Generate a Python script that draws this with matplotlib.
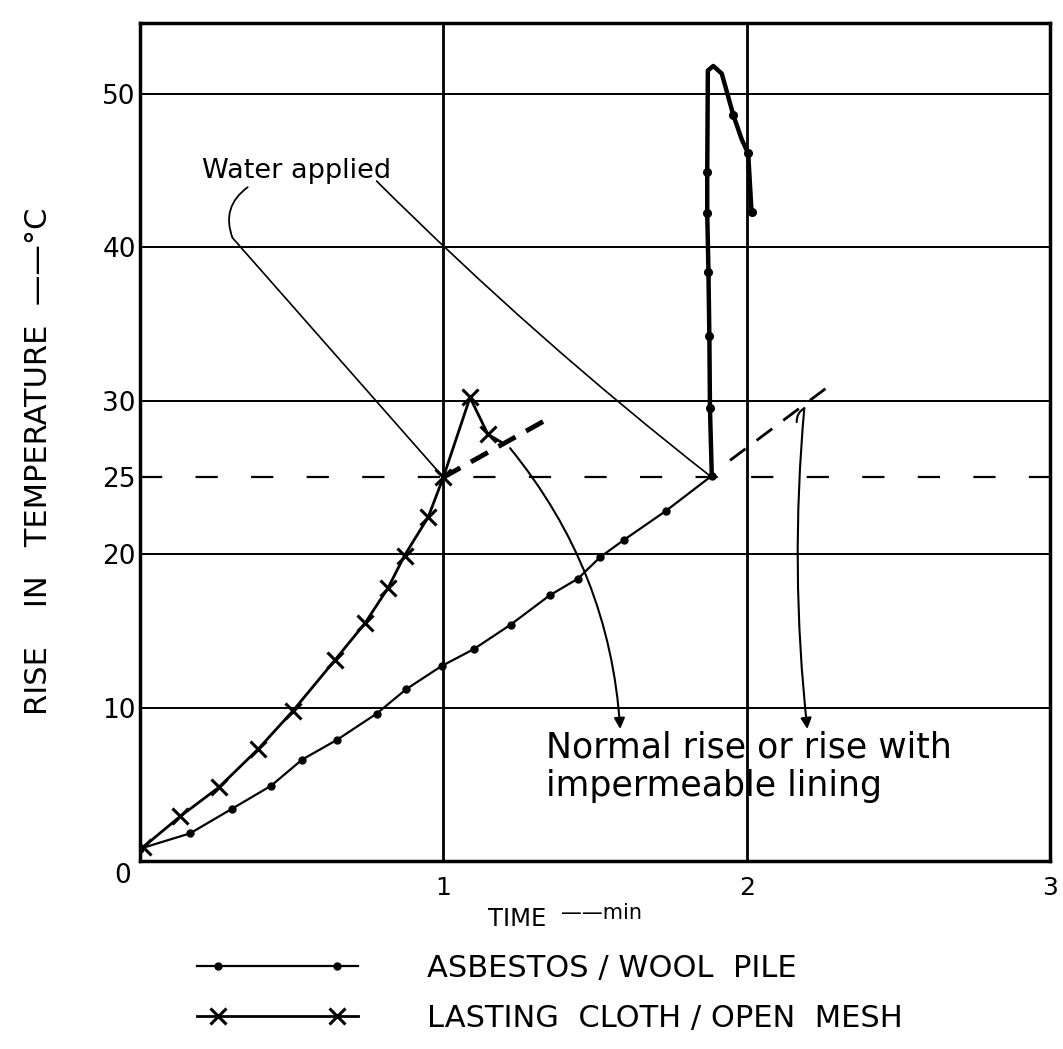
import numpy as np
import matplotlib
matplotlib.use("Agg")
import matplotlib.pyplot as plt
from matplotlib.legend_handler import HandlerLine2D

# ---------------- data ----------------
asb_time = [0.0, 0.165, 0.303, 0.432, 0.534, 0.65, 0.78, 0.878, 0.994, 1.10,
            1.222, 1.35, 1.444, 1.517, 1.594, 1.733, 1.885]
asb_temp = [0.8, 1.8, 3.4, 4.9, 6.6, 7.9, 9.6, 11.2, 12.7, 13.8,
            15.4, 17.3, 18.4, 19.8, 20.9, 22.8, 25.1]
asb_wet_time = [1.885, 1.879, 1.877, 1.874, 1.870, 1.870, 1.872, 1.890, 1.918,
                1.956, 1.984, 2.005, 2.016]
asb_wet_temp = [25.1, 29.5, 34.2, 38.4, 42.2, 44.9, 51.5, 51.8, 51.3,
                48.6, 47.0, 46.1, 42.3]
cloth_time = [0.01, 0.132, 0.26, 0.39, 0.505, 0.643, 0.742, 0.818, 0.872, 0.95, 1.0]
cloth_temp = [0.9, 2.9, 4.8, 7.3, 9.8, 13.1, 15.5, 17.8, 19.9, 22.4, 25.0]
cloth_wet_time = [1.0, 1.088, 1.147, 1.19]
cloth_wet_temp = [25.0, 30.2, 27.8, 27.3]
cloth_normal_time = [1.0, 1.335]
cloth_normal_temp = [25.0, 28.7]
asb_normal_time = [1.945, 2.275]
asb_normal_temp = [26.1, 31.0]
water_level = 25

y_ticks = [10, 20, 25, 30, 40, 50]
y_grid = [10, 20, 30, 40, 50]
x_ticks = [1, 2, 3]
x_grid = [1, 2]
series_labels = ["ASBESTOS / WOOL  PILE", "LASTING  CLOTH / OPEN  MESH"]

# ---------------- figure ----------------
plt.rcParams['font.family'] = ['DejaVu Sans']
W, H = 1063, 1049
fig = plt.figure(figsize=(W / 100, H / 100), dpi=100)
ax = fig.add_axes([140 / W, 1 - 861 / H, 910 / W, 838 / H])
ax.set_xlim(0, 3)
ax.set_ylim(0, 54.6)

for s in ax.spines.values():
    s.set_linewidth(2.5)
    s.set_color('black')

for g in y_grid:
    ax.axhline(g, color='black', lw=1.4, zorder=1)
for g in x_grid:
    ax.axvline(g, color='black', lw=2.0, zorder=1)
ax.axhline(water_level, color='black', lw=1.6, ls=(0, (10, 15)), zorder=1)

ax.set_yticks(y_ticks)
ax.set_yticklabels([str(v) for v in y_ticks])
ax.set_xticks(x_ticks)
ax.set_xticklabels([str(v) for v in x_ticks])
ax.tick_params(axis='y', length=0, pad=3, labelsize=19)
ax.tick_params(axis='x', length=0, pad=11, labelsize=18)

# series
l_asb, = ax.plot(asb_time, asb_temp, color='black', lw=1.6, marker='o',
                 ms=5, zorder=3)
ax.plot(asb_wet_time, asb_wet_temp, color='black', lw=3.2, marker='o', ms=5.5,
        markevery=[1, 2, 3, 4, 5, 9, 11, 12], zorder=3)
l_cloth, = ax.plot(cloth_time, cloth_temp, color='black', lw=2.0, marker='x',
                   ms=11, mew=2.2, zorder=3)
ax.plot(cloth_wet_time, cloth_wet_temp, color='black', lw=2.0, marker='x',
        ms=11, mew=2.2, markevery=[1, 2], zorder=3)
ax.plot(cloth_normal_time, cloth_normal_temp, color='black', lw=3.5,
        ls=(0, (4, 2.5)), zorder=2)
ax.plot(asb_normal_time, asb_normal_temp, color='black', lw=2.0,
        ls=(0, (7, 5)), zorder=2)

# annotations
ax.text(0.204, 44.5, "Water applied", fontsize=19.5, ha='left', va='baseline')
ax.annotate("", xy=(0.305, 40.6), xytext=(0.355, 43.9),
            arrowprops=dict(arrowstyle='-', lw=1.3, color='black',
                            connectionstyle="arc3,rad=0.38",
                            shrinkA=0, shrinkB=0))
ax.annotate("", xy=(cloth_time[-1], water_level), xytext=(0.305, 40.6),
            arrowprops=dict(arrowstyle='-', lw=1.2, color='black',
                            shrinkA=0, shrinkB=0))
ax.annotate("", xy=(asb_time[-1], water_level), xytext=(0.78, 44.3),
            arrowprops=dict(arrowstyle='-', lw=1.2, color='black',
                            connectionstyle="arc3,rad=0.03",
                            shrinkA=0, shrinkB=0))

ax.text(1.34, (861 - 757) / 15.35, "Normal rise or rise with", fontsize=25,
        ha='left', va='baseline')
ax.text(1.34, (861 - 796) / 15.35, "impermeable lining", fontsize=25,
        ha='left', va='baseline')
ax.annotate("", xy=(1.583, 8.6), xytext=(1.22, 26.9),
            arrowprops=dict(arrowstyle='-|>', lw=1.5, color='black',
                            mutation_scale=16,
                            connectionstyle="arc3,rad=-0.16",
                            shrinkA=0, shrinkB=0))
ax.annotate("", xy=(2.2, 8.6), xytext=(2.19, 29.5),
            arrowprops=dict(arrowstyle='-|>', lw=1.5, color='black',
                            mutation_scale=16,
                            connectionstyle="arc3,rad=0.05",
                            shrinkA=0, shrinkB=0))
ax.annotate("", xy=(2.19, 29.5), xytext=(2.165, 28.6),
            arrowprops=dict(arrowstyle='-', lw=1.5, color='black',
                            connectionstyle="arc3,rad=-0.3",
                            shrinkA=0, shrinkB=0))

# axis labels
fig.text(123 / W, 1 - 876 / H, "0", fontsize=19, ha='center', va='center')
fig.text(39 / W, 1 - 461 / H, "RISE    IN   TEMPERATURE  ——°C", fontsize=22,
         rotation=90, ha='center', va='center')
fig.text(488 / W, 1 - 919 / H, "TIME", fontsize=17.5, ha='left',
         va='center')
fig.text(561 / W, 1 - 913 / H, "——min", fontsize=15, ha='left',
         va='center')


# legend
class SampleHandler(HandlerLine2D):
    def get_xdata(self, legend, xdescent, ydescent, width, height, fontsize):
        pad = 0.13 * width
        xdata = np.array([-xdescent, -xdescent + pad,
                          -xdescent + width - pad, -xdescent + width])
        return xdata, xdata


fs_leg = 22
px = fs_leg * 100 / 72
leg = fig.legend([l_asb, l_cloth], series_labels, loc='upper left',
                 bbox_to_anchor=(197 / W, 1 - 954 / H), frameon=False,
                 fontsize=fs_leg, numpoints=2, handlelength=161 / px,
                 handletextpad=69 / px, borderpad=0, borderaxespad=0,
                 labelspacing=0.68,
                 handler_map={l_asb: SampleHandler(), l_cloth: SampleHandler()})
for ln in leg.get_lines():
    ln.set_markevery([1, 2])

fig.savefig("out.png", dpi=100)
